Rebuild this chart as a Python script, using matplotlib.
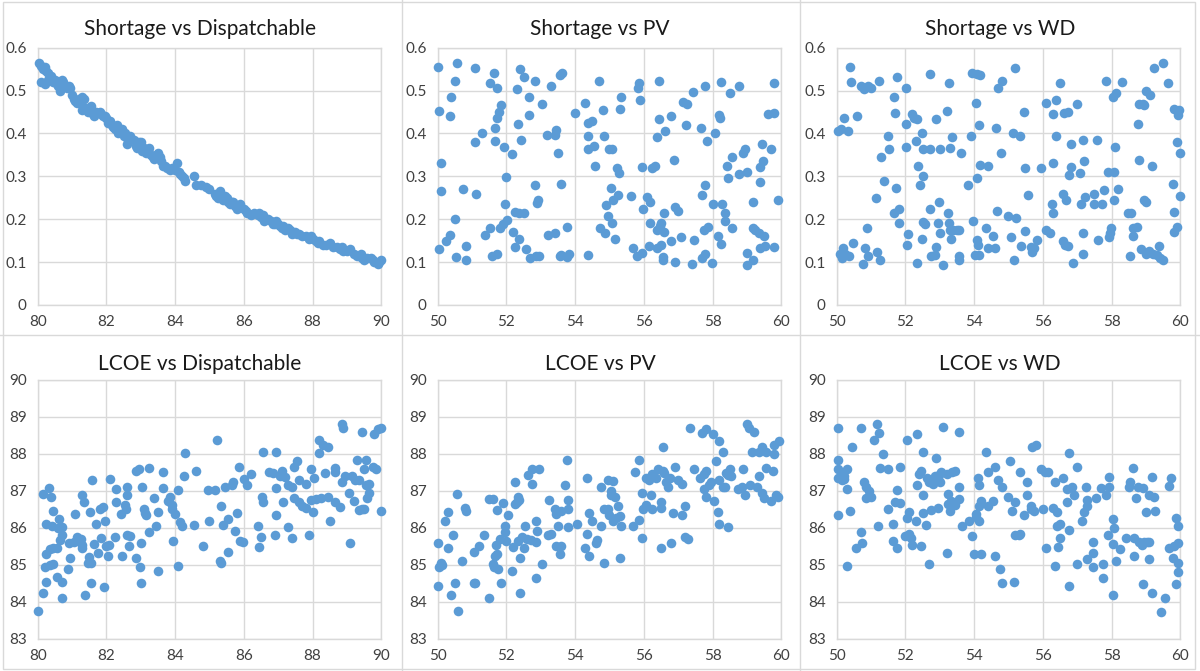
import matplotlib
matplotlib.use('Agg')
import matplotlib.pyplot as plt
from matplotlib.lines import Line2D
from matplotlib.patches import Rectangle

# (x, y) pairs
short_disp = [
    (80.05, 0.565), (80.1, 0.558), (80.15, 0.55), (80.1, 0.52), (80.2, 0.555), (80.25, 0.545),
    (80.3, 0.54), (80.2, 0.515), (80.35, 0.53), (80.4, 0.535), (80.3, 0.525), (80.45, 0.52),
    (80.5, 0.525), (80.55, 0.515), (80.6, 0.51), (80.65, 0.5), (80.6, 0.52), (80.7, 0.525),
    (80.75, 0.52), (80.8, 0.51), (80.85, 0.505), (80.9, 0.51), (80.95, 0.505), (81.0, 0.49),
    (81.05, 0.48), (81.1, 0.475), (81.15, 0.47), (81.2, 0.48), (81.25, 0.47), (81.3, 0.485),
    (81.35, 0.48), (81.3, 0.455), (81.4, 0.46), (81.45, 0.45), (81.5, 0.46), (81.55, 0.465),
    (81.6, 0.445), (81.65, 0.44), (81.7, 0.45), (81.8, 0.45), (81.85, 0.445), (81.9, 0.44),
    (81.95, 0.44), (82.0, 0.435), (82.05, 0.425), (82.1, 0.43), (82.15, 0.42), (82.2, 0.415),
    (82.25, 0.41), (82.3, 0.42), (82.35, 0.4), (82.4, 0.405), (82.45, 0.41), (82.5, 0.395),
    (82.55, 0.4), (82.6, 0.39), (82.6, 0.375), (82.65, 0.385), (82.7, 0.395), (82.8, 0.385),
    (82.85, 0.37), (82.9, 0.365), (82.95, 0.38), (83.0, 0.38), (83.05, 0.36), (83.1, 0.365),
    (83.15, 0.355), (83.2, 0.36), (83.25, 0.365), (83.3, 0.35), (83.35, 0.345), (83.4, 0.34),
    (83.45, 0.35), (83.5, 0.355), (83.55, 0.345), (83.6, 0.335), (83.65, 0.325), (83.7, 0.325),
    (83.75, 0.32), (83.85, 0.315), (83.9, 0.32), (84.0, 0.315), (84.05, 0.33), (84.1, 0.31),
    (84.15, 0.305), (84.2, 0.3), (84.25, 0.295), (84.3, 0.29), (84.55, 0.3), (84.6, 0.28),
    (84.75, 0.28), (84.9, 0.275), (85.0, 0.27), (85.15, 0.26), (85.2, 0.255), (85.25, 0.25),
    (85.3, 0.265), (85.35, 0.255), (85.4, 0.245), (85.45, 0.255), (85.5, 0.25), (85.55, 0.24),
    (85.6, 0.235), (85.65, 0.24), (85.7, 0.24), (85.75, 0.23), (85.8, 0.225), (85.9, 0.235),
    (86.0, 0.225), (86.05, 0.22), (86.1, 0.215), (86.2, 0.21), (86.3, 0.215), (86.4, 0.21),
    (86.45, 0.215), (86.5, 0.205), (86.55, 0.21), (86.6, 0.195), (86.7, 0.2), (86.8, 0.195),
    (86.85, 0.19), (86.9, 0.19), (86.95, 0.195), (87.0, 0.19), (87.05, 0.185), (87.1, 0.18),
    (87.15, 0.185), (87.2, 0.175), (87.3, 0.18), (87.35, 0.175), (87.4, 0.165), (87.5, 0.17),
    (87.55, 0.165), (87.6, 0.165), (87.7, 0.16), (87.8, 0.16), (87.9, 0.155), (87.95, 0.16),
    (88.0, 0.155), (88.1, 0.15), (88.15, 0.145), (88.2, 0.15), (88.3, 0.14), (88.4, 0.14),
    (88.5, 0.145), (88.6, 0.135), (88.7, 0.135), (88.8, 0.13), (88.85, 0.135), (88.9, 0.125),
    (89.0, 0.125), (89.1, 0.13), (89.2, 0.12), (89.3, 0.115), (89.4, 0.12), (89.45, 0.11),
    (89.5, 0.105), (89.6, 0.11), (89.7, 0.11), (89.75, 0.105), (89.8, 0.1), (89.9, 0.095),
    (89.95, 0.1), (90.0, 0.105),
]

short_pv = [
    (50.0, 0.556), (50.05, 0.452), (50.1, 0.33), (50.1, 0.267), (50.05, 0.13), (50.25, 0.15),
    (50.35, 0.163), (50.4, 0.484), (50.35, 0.44), (50.5, 0.522), (50.57, 0.565), (50.5, 0.2),
    (50.52, 0.113), (50.73, 0.27), (50.83, 0.138), (50.83, 0.106), (51.1, 0.552), (51.1, 0.38),
    (51.28, 0.402), (51.12, 0.259), (51.38, 0.163), (51.52, 0.179), (51.52, 0.517), (51.64, 0.54),
    (51.74, 0.507), (51.67, 0.412), (51.67, 0.383), (51.72, 0.435), (51.79, 0.451), (51.83, 0.466),
    (51.57, 0.114), (51.72, 0.12), (51.82, 0.179), (51.91, 0.19), (52.03, 0.198), (51.96, 0.235),
    (51.99, 0.299), (51.94, 0.368), (52.15, 0.352), (52.18, 0.171), (52.25, 0.136), (52.25, 0.218),
    (52.38, 0.214), (52.52, 0.214), (52.37, 0.155), (52.3, 0.503), (52.4, 0.55), (52.5, 0.531),
    (52.35, 0.422), (52.42, 0.385), (52.66, 0.484), (52.66, 0.444), (52.57, 0.13), (52.7, 0.109),
    (52.83, 0.522), (52.83, 0.279), (52.88, 0.237), (52.93, 0.245), (52.86, 0.114), (52.96, 0.114),
    (53.03, 0.468), (53.17, 0.396), (53.3, 0.51), (53.2, 0.163), (53.42, 0.167), (53.42, 0.396),
    (53.45, 0.408), (53.49, 0.354), (53.55, 0.536), (53.63, 0.542), (53.59, 0.281), (53.59, 0.117),
    (53.55, 0.114), (53.76, 0.183), (53.81, 0.119), (53.76, 0.111), (54.0, 0.448), (54.29, 0.47),
    (54.39, 0.425), (54.39, 0.394), (54.39, 0.363), (54.39, 0.117), (54.49, 0.43), (54.55, 0.371),
    (54.58, 0.324), (54.7, 0.522), (54.8, 0.455), (54.84, 0.394), (54.73, 0.179), (54.87, 0.169),
    (54.9, 0.233), (54.97, 0.207), (55.0, 0.363), (55.07, 0.363), (55.04, 0.272), (55.1, 0.245),
    (55.08, 0.192), (55.15, 0.153), (55.26, 0.256), (55.23, 0.319), (55.29, 0.308), (55.31, 0.456),
    (55.33, 0.486), (55.63, 0.254), (55.68, 0.134), (55.8, 0.114), (55.82, 0.507), (55.87, 0.518),
    (55.89, 0.478), (55.94, 0.322), (55.94, 0.122), (55.99, 0.223), (56.1, 0.252), (56.17, 0.241),
    (56.17, 0.192), (56.14, 0.138), (56.23, 0.319), (56.33, 0.325), (56.38, 0.176), (56.43, 0.522),
    (56.43, 0.433), (56.38, 0.392), (56.46, 0.184), (56.5, 0.192), (56.38, 0.132), (56.5, 0.14),
    (56.6, 0.214), (56.6, 0.171), (56.57, 0.113), (56.57, 0.105), (56.62, 0.406), (56.79, 0.44),
    (56.79, 0.15), (56.88, 0.338), (56.91, 0.228), (57.0, 0.22), (56.91, 0.101), (57.08, 0.158),
    (57.14, 0.474), (57.27, 0.469), (57.23, 0.42), (57.43, 0.497), (57.47, 0.152), (57.4, 0.096),
    (57.67, 0.412), (57.69, 0.256), (57.79, 0.28), (57.79, 0.51), (57.84, 0.383), (57.76, 0.175),
    (57.86, 0.183), (57.69, 0.109), (57.79, 0.12), (57.98, 0.097), (58.01, 0.235), (58.08, 0.4),
    (58.2, 0.443), (58.22, 0.437), (58.24, 0.52), (58.17, 0.161), (58.24, 0.142), (58.27, 0.235),
    (58.37, 0.214), (58.37, 0.197), (58.42, 0.324), (58.44, 0.295), (58.51, 0.495), (58.56, 0.346),
    (58.56, 0.18), (58.76, 0.51), (58.76, 0.305), (58.9, 0.354), (58.95, 0.363), (59.0, 0.311),
    (59.0, 0.093), (59.0, 0.122), (59.17, 0.105), (59.17, 0.241), (59.17, 0.18), (59.24, 0.175),
    (59.34, 0.167), (59.37, 0.322), (59.37, 0.287), (59.44, 0.375), (59.47, 0.336), (59.49, 0.161),
    (59.39, 0.132), (59.53, 0.138), (59.63, 0.446), (59.8, 0.448), (59.7, 0.363), (59.78, 0.518),
    (59.78, 0.136), (59.92, 0.246),
]

short_wd = [
    (50.05, 0.406), (50.12, 0.41), (50.1, 0.12), (50.15, 0.109), (50.17, 0.132), (50.24, 0.12),
    (50.22, 0.437), (50.34, 0.406), (50.37, 0.114), (50.39, 0.556), (50.41, 0.519), (50.48, 0.144),
    (50.6, 0.44), (50.71, 0.51), (50.8, 0.503), (50.9, 0.51), (51.0, 0.507), (50.76, 0.095),
    (50.83, 0.134), (50.87, 0.18), (50.92, 0.114), (51.14, 0.249), (51.18, 0.124), (51.24, 0.523),
    (51.26, 0.106), (51.29, 0.344), (51.38, 0.288), (51.48, 0.394), (51.52, 0.363), (51.67, 0.484),
    (51.69, 0.447), (51.76, 0.531), (51.74, 0.272), (51.67, 0.214), (51.81, 0.225), (51.82, 0.192),
    (52.01, 0.507), (52.01, 0.422), (52.03, 0.368), (52.05, 0.14), (52.08, 0.165), (52.18, 0.445),
    (52.25, 0.437), (52.34, 0.433), (52.3, 0.383), (52.37, 0.325), (52.42, 0.28), (52.47, 0.402),
    (52.5, 0.363), (52.52, 0.301), (52.47, 0.153), (52.52, 0.194), (52.57, 0.189), (52.34, 0.097),
    (52.73, 0.538), (52.73, 0.363), (52.73, 0.223), (52.74, 0.114), (52.86, 0.117), (52.89, 0.136),
    (52.89, 0.433), (52.98, 0.241), (52.95, 0.192), (53.0, 0.363), (53.0, 0.167), (53.1, 0.093),
    (53.2, 0.452), (53.27, 0.518), (53.24, 0.214), (53.27, 0.192), (53.29, 0.176), (53.32, 0.155),
    (53.31, 0.365), (53.37, 0.392), (53.39, 0.175), (53.49, 0.176), (53.56, 0.114), (53.56, 0.105),
    (53.56, 0.176), (53.63, 0.354), (53.82, 0.28), (53.92, 0.394), (53.95, 0.542), (54.07, 0.538),
    (54.16, 0.536), (54.05, 0.472), (53.97, 0.197), (54.02, 0.117), (54.08, 0.152), (54.09, 0.295),
    (54.11, 0.14), (54.14, 0.117), (54.16, 0.326), (54.14, 0.42), (54.4, 0.324), (54.34, 0.18),
    (54.4, 0.134), (54.6, 0.132), (54.55, 0.161), (54.64, 0.413), (54.71, 0.507), (54.81, 0.523),
    (54.78, 0.355), (54.68, 0.22), (54.99, 0.207), (55.08, 0.159), (55.15, 0.106), (55.18, 0.552),
    (55.13, 0.4), (55.21, 0.202), (55.34, 0.394), (55.37, 0.138), (55.44, 0.451), (55.47, 0.173),
    (55.47, 0.319), (55.57, 0.256), (55.66, 0.136), (55.68, 0.124), (55.73, 0.134), (55.83, 0.152),
    (55.95, 0.319), (56.08, 0.47), (56.08, 0.176), (56.2, 0.167), (56.27, 0.235), (56.31, 0.214),
    (56.29, 0.445), (56.31, 0.33), (56.39, 0.478), (56.39, 0.394), (56.49, 0.518), (56.58, 0.259),
    (56.58, 0.15), (56.66, 0.14), (56.73, 0.138), (56.63, 0.447), (56.73, 0.451), (56.68, 0.245),
    (56.76, 0.303), (56.83, 0.375), (56.83, 0.321), (56.89, 0.099), (56.99, 0.469), (57.07, 0.307),
    (57.1, 0.235), (57.18, 0.385), (57.21, 0.336), (57.24, 0.251), (57.18, 0.169), (57.18, 0.12),
    (57.5, 0.26), (57.5, 0.235), (57.57, 0.385), (57.6, 0.152), (57.72, 0.235), (57.77, 0.268),
    (57.84, 0.523), (57.89, 0.311), (57.94, 0.159), (57.96, 0.169), (57.99, 0.18), (58.03, 0.486),
    (58.08, 0.309), (58.08, 0.246), (58.11, 0.369), (58.13, 0.495), (58.18, 0.27), (58.3, 0.521),
    (58.47, 0.214), (58.57, 0.214), (58.55, 0.114), (58.64, 0.179), (58.64, 0.161), (58.73, 0.183),
    (58.76, 0.423), (58.79, 0.469), (58.79, 0.338), (58.91, 0.469), (58.86, 0.13), (58.95, 0.466),
    (58.95, 0.245), (59.0, 0.241), (59.0, 0.12), (59.0, 0.5), (59.08, 0.127), (59.13, 0.49),
    (59.18, 0.324), (59.2, 0.12), (59.25, 0.552), (59.32, 0.117), (59.37, 0.138), (59.41, 0.109),
    (59.49, 0.565), (59.49, 0.105), (59.64, 0.517), (59.8, 0.282), (59.83, 0.456), (59.81, 0.171),
    (59.83, 0.218), (59.92, 0.181), (59.92, 0.381), (59.95, 0.443), (59.97, 0.455), (60.0, 0.254),
    (60.0, 0.354),
]

lcoe_disp = [
    (80.02, 83.75), (80.15, 84.25), (80.25, 84.55), (80.22, 84.95), (80.35, 85.0), (80.45, 85.02),
    (80.25, 85.3), (80.35, 85.42), (80.45, 85.45), (80.55, 85.45), (80.15, 86.93), (80.33, 87.08),
    (80.4, 86.85), (80.25, 86.12), (80.45, 86.45), (80.42, 86.05), (80.6, 86.0), (80.62, 86.25),
    (80.72, 86.02), (80.7, 85.82), (80.65, 85.68), (80.55, 84.68), (80.7, 84.55), (80.72, 84.12),
    (80.88, 84.9), (80.95, 85.2), (80.9, 85.6), (81.05, 85.62), (81.1, 86.38), (81.15, 85.75),
    (81.25, 85.7), (81.3, 85.55), (81.3, 85.45), (81.3, 86.88), (81.35, 86.7), (81.38, 84.2),
    (81.45, 85.05), (81.48, 85.22), (81.55, 85.05), (81.55, 84.5), (81.52, 86.43), (81.58, 87.3),
    (81.65, 85.58), (81.7, 86.1), (81.75, 85.32), (81.8, 86.52), (81.85, 85.73), (81.9, 86.58),
    (81.92, 84.4), (81.95, 86.18), (82.0, 85.5), (82.05, 85.25), (82.08, 85.55), (82.1, 87.32),
    (82.25, 85.75), (82.28, 86.7), (82.28, 87.05), (82.42, 86.38), (82.45, 85.23), (82.55, 86.62),
    (82.58, 86.52), (82.6, 86.9), (82.6, 87.12), (82.6, 85.82), (82.65, 85.5), (82.7, 85.78),
    (82.85, 85.18), (82.85, 87.55), (82.95, 87.6), (82.98, 84.95), (83.02, 84.5), (83.0, 85.6),
    (83.05, 87.12), (83.1, 86.5), (83.12, 86.4), (83.15, 86.35), (83.25, 87.62), (83.25, 85.9),
    (83.4, 86.8), (83.45, 86.05), (83.5, 86.42), (83.5, 84.85), (83.65, 87.5), (83.65, 87.08),
    (83.8, 86.72), (83.85, 86.85), (83.9, 86.62), (83.92, 86.5), (84.0, 86.38), (83.95, 85.65),
    (84.08, 87.02), (84.08, 84.98), (84.15, 86.15), (84.2, 86.05), (84.25, 87.4), (84.3, 88.02),
    (84.55, 86.08), (84.6, 87.55), (84.8, 85.52), (84.95, 87.03), (85.0, 86.18), (85.15, 87.02),
    (85.22, 88.38), (85.3, 85.1), (85.35, 85.05), (85.35, 86.6), (85.4, 86.08), (85.45, 87.1),
    (85.55, 86.25), (85.55, 85.35), (85.65, 87.15), (85.7, 87.25), (85.75, 85.92), (85.8, 86.4),
    (85.85, 87.65), (85.9, 85.65), (86.0, 87.33), (85.98, 85.62), (86.08, 87.15), (86.2, 87.45),
    (86.4, 86.05), (86.45, 85.48), (86.5, 85.75), (86.52, 86.85), (86.55, 86.7), (86.55, 88.05),
    (86.72, 87.5), (86.85, 87.48), (86.92, 85.82), (86.95, 87.08), (86.95, 86.35), (86.95, 88.05),
    (87.05, 87.4), (87.1, 87.55), (87.15, 86.7), (87.2, 87.38), (87.28, 86.02), (87.3, 87.15),
    (87.4, 87.12), (87.4, 85.72), (87.45, 86.8), (87.45, 87.65), (87.55, 87.82), (87.6, 87.3),
    (87.6, 86.7), (87.7, 86.6), (87.8, 86.55), (87.8, 87.2), (87.9, 85.8), (87.95, 86.75),
    (87.95, 87.6), (88.0, 86.42), (88.05, 87.35), (88.1, 86.78), (88.2, 88.02), (88.2, 88.38),
    (88.25, 86.82), (88.3, 88.25), (88.35, 87.48), (88.45, 86.85), (88.45, 88.18), (88.5, 86.18),
    (88.65, 87.5), (88.65, 87.62), (88.65, 86.7), (88.8, 86.58), (88.85, 87.25), (88.85, 88.82),
    (88.9, 88.7), (88.95, 87.4), (89.05, 86.95), (89.1, 85.6), (89.15, 87.4), (89.2, 86.72),
    (89.25, 87.3), (89.3, 87.85), (89.35, 87.3), (89.35, 86.48), (89.45, 86.5), (89.45, 88.6),
    (89.5, 86.5), (89.5, 87.6), (89.55, 87.15), (89.55, 87.85), (89.6, 86.8), (89.65, 86.95),
    (89.65, 87.2), (89.75, 87.65), (89.8, 88.55), (89.85, 87.6), (89.9, 88.68), (90.0, 88.7),
    (90.0, 86.45),
]

lcoe_pv = [
    (50.0, 85.6), (50.0, 84.42), (50.05, 84.95), (50.1, 85.05), (50.12, 85.0), (50.2, 86.2),
    (50.3, 86.42), (50.3, 85.45), (50.4, 84.2), (50.45, 85.8), (50.5, 84.5), (50.55, 86.92),
    (50.6, 83.75), (50.7, 85.1), (50.8, 86.55), (50.82, 86.45), (51.05, 85.35), (51.05, 84.52),
    (51.1, 84.5), (51.2, 85.52), (51.35, 85.82), (51.5, 84.1), (51.5, 86.78), (51.6, 86.78),
    (51.6, 85.02), (51.65, 84.95), (51.68, 85.25), (51.7, 85.55), (51.72, 86.48), (51.72, 85.3),
    (51.75, 84.9), (51.8, 85.7), (51.85, 84.5), (51.9, 86.68), (51.95, 85.9), (51.95, 86.05),
    (51.98, 85.65), (52.05, 86.35), (52.15, 84.85), (52.2, 85.48), (52.25, 86.65), (52.25, 87.25),
    (52.3, 86.7), (52.35, 86.85), (52.38, 86.75), (52.35, 85.65), (52.4, 85.18), (52.4, 84.25),
    (52.45, 85.75), (52.5, 85.45), (52.55, 86.05), (52.6, 85.7), (52.62, 87.42), (52.72, 85.68),
    (52.75, 87.6), (52.75, 87.18), (52.85, 85.62), (52.85, 84.65), (52.85, 86.18), (52.9, 85.92),
    (52.95, 87.6), (53.05, 85.02), (53.2, 85.8), (53.25, 86.75), (53.3, 85.85), (53.42, 86.5),
    (53.45, 86.38), (53.5, 86.05), (53.45, 85.5), (53.55, 85.3), (53.6, 85.52), (53.6, 86.45),
    (53.7, 87.15), (53.75, 87.85), (53.8, 86.75), (53.8, 86.5), (53.8, 86.02), (54.05, 86.1),
    (54.35, 87.35), (54.3, 85.45), (54.35, 85.85), (54.4, 86.4), (54.4, 85.25), (54.5, 86.2),
    (54.6, 85.6), (54.65, 85.68), (54.75, 86.05), (54.75, 87.12), (54.85, 86.5), (54.85, 85.05),
    (54.95, 87.3), (54.95, 86.5), (55.0, 86.35), (55.05, 86.88), (55.05, 87.0), (55.1, 87.28),
    (55.15, 86.85), (55.1, 86.2), (55.2, 86.28), (55.25, 86.6), (55.3, 86.32), (55.3, 85.2),
    (55.35, 86.05), (55.7, 86.05), (55.75, 87.5), (55.85, 86.22), (55.85, 87.85), (55.95, 86.95),
    (55.95, 85.72), (55.98, 86.5), (56.05, 86.62), (56.05, 87.35), (56.15, 87.3), (56.2, 86.88),
    (56.25, 87.45), (56.25, 86.5), (56.35, 87.35), (56.4, 87.6), (56.5, 86.7), (56.5, 86.55),
    (56.5, 85.45), (56.55, 88.2), (56.55, 87.55), (56.6, 87.48), (56.65, 87.25), (56.7, 87.1),
    (56.75, 87.35), (56.8, 85.6), (56.85, 86.4), (56.9, 87.65), (57.0, 87.3), (57.1, 86.35),
    (57.1, 87.18), (57.2, 86.6), (57.2, 85.75), (57.3, 85.7), (57.35, 88.7), (57.45, 87.6),
    (57.65, 87.35), (57.7, 88.58), (57.75, 87.05), (57.75, 87.45), (57.8, 87.55), (57.82, 88.68),
    (57.8, 86.85), (57.9, 87.15), (57.95, 87.25), (58.0, 88.55), (58.05, 86.72), (58.1, 87.8),
    (58.15, 86.42), (58.2, 87.3), (58.2, 86.12), (58.2, 88.35), (58.3, 87.1), (58.3, 88.05),
    (58.35, 87.1), (58.4, 87.48), (58.45, 86.02), (58.45, 87.42), (58.5, 87.6), (58.55, 87.4),
    (58.75, 87.05), (58.85, 87.1), (58.9, 87.6), (58.95, 86.9), (59.0, 88.8), (59.05, 88.7),
    (59.1, 87.15), (59.15, 88.05), (59.2, 88.6), (59.3, 87.1), (59.35, 87.4), (59.35, 88.05),
    (59.45, 88.2), (59.45, 86.95), (59.5, 86.8), (59.55, 87.62), (59.55, 88.05), (59.7, 86.72),
    (59.75, 87.55), (59.8, 88.25), (59.85, 86.9), (59.9, 86.85), (59.95, 88.35), (59.8, 88.0),
]

lcoe_wd = [
    (50.03, 86.35), (50.05, 88.7), (50.05, 87.85), (50.05, 87.6), (50.05, 87.35), (50.12, 87.45),
    (50.15, 87.3), (50.2, 87.4), (50.22, 87.32), (50.3, 87.6), (50.3, 87.05), (50.3, 84.98),
    (50.4, 86.45), (50.45, 88.2), (50.55, 85.45), (50.7, 85.88), (50.7, 88.7), (50.75, 85.6),
    (50.8, 87.25), (50.85, 87.1), (50.85, 86.8), (50.95, 87.0), (51.0, 86.85), (51.1, 88.38),
    (51.18, 88.8), (51.22, 88.58), (51.2, 86.05), (51.25, 87.62), (51.35, 88.0), (51.5, 87.6),
    (51.5, 86.52), (51.65, 85.65), (51.65, 86.1), (51.7, 86.7), (51.75, 87.02), (51.75, 85.45),
    (51.85, 87.65), (51.85, 86.68), (52.0, 85.78), (52.05, 88.38), (52.05, 86.28), (52.1, 85.85),
    (52.1, 86.42), (52.15, 85.72), (52.2, 85.55), (52.3, 86.18), (52.35, 87.15), (52.35, 88.55),
    (52.4, 87.45), (52.45, 87.55), (52.45, 85.52), (52.5, 86.88), (52.5, 86.4), (52.5, 88.05),
    (52.6, 86.08), (52.62, 87.35), (52.7, 87.25), (52.7, 85.02), (52.75, 86.48), (52.8, 87.2),
    (52.85, 87.4), (52.9, 87.88), (52.95, 86.55), (52.98, 87.42), (53.05, 87.52), (53.0, 87.25),
    (53.1, 88.72), (53.2, 87.45), (53.2, 85.32), (53.25, 86.92), (53.25, 86.65), (53.3, 86.45),
    (53.32, 86.72), (53.35, 87.5), (53.45, 87.55), (53.45, 86.62), (53.55, 87.12), (53.55, 86.78),
    (53.55, 88.6), (53.65, 86.05), (53.85, 86.18), (53.95, 85.78), (54.0, 85.3), (54.05, 86.3),
    (54.05, 86.38), (54.1, 87.35), (54.15, 87.15), (54.15, 86.18), (54.15, 86.6), (54.2, 86.72),
    (54.2, 85.3), (54.35, 88.05), (54.4, 86.6), (54.4, 87.5), (54.55, 86.72), (54.6, 87.65),
    (54.6, 85.25), (54.7, 87.3), (54.75, 84.88), (54.8, 87.1), (54.8, 84.52), (55.0, 86.85),
    (55.05, 87.8), (55.1, 86.45), (55.15, 84.55), (55.2, 86.7), (55.2, 85.8), (55.3, 85.82),
    (55.35, 85.85), (55.35, 87.5), (55.45, 86.35), (55.55, 87.25), (55.55, 86.88), (55.65, 86.5),
    (55.65, 86.6), (55.75, 86.45), (55.7, 88.2), (55.8, 88.25), (55.95, 87.6), (56.05, 87.52),
    (56.0, 86.5), (56.1, 85.45), (56.15, 87.5), (56.3, 86.55), (56.35, 87.25), (56.4, 86.42),
    (56.35, 84.98), (56.4, 86.05), (56.5, 85.72), (56.5, 86.12), (56.45, 85.48), (56.6, 87.35),
    (56.7, 87.05), (56.7, 86.7), (56.75, 85.95), (56.75, 88.02), (56.75, 84.42), (56.85, 87.1),
    (56.9, 86.9), (57.0, 87.65), (57.0, 85.02), (57.15, 86.18), (57.2, 86.42), (57.3, 86.6),
    (57.3, 86.75), (57.25, 87.1), (57.3, 85.15), (57.47, 84.95), (57.47, 85.32), (57.47, 85.63),
    (57.55, 86.8), (57.7, 87.07), (57.74, 85.02), (57.76, 84.64), (57.84, 86.9), (57.89, 85.8),
    (57.92, 87.12), (57.94, 87.39), (58.03, 85.58), (58.03, 84.2), (58.05, 86.25), (58.08, 86.0),
    (58.13, 85.1), (58.25, 85.42), (58.42, 85.73), (58.52, 87.1), (58.55, 87.25), (58.62, 87.61),
    (58.66, 85.74), (58.66, 85.25), (58.71, 86.8), (58.76, 87.12), (58.81, 85.63), (58.89, 85.54),
    (58.91, 87.07), (58.91, 84.48), (58.96, 85.63), (59.0, 86.44), (59.03, 85.63), (59.1, 85.63),
    (59.08, 86.9), (59.1, 85.17), (59.18, 87.39), (59.18, 84.24), (59.25, 86.85), (59.27, 86.46),
    (59.44, 83.74), (59.56, 84.1), (59.66, 87.14), (59.73, 87.36), (59.68, 85.45), (59.78, 85.2),
    (59.83, 85.5), (59.87, 86.27), (59.95, 86.05), (59.95, 85.05), (59.95, 84.82), (59.89, 84.48),
    (59.95, 85.6),
]

titles = ["Shortage vs Dispatchable", "Shortage vs PV", "Shortage vs WD",
          "LCOE vs Dispatchable", "LCOE vs PV", "LCOE vs WD"]
series = [short_disp, short_pv, short_wd, lcoe_disp, lcoe_pv, lcoe_wd]
xranges = [(80, 90), (50, 60), (50, 60), (80, 90), (50, 60), (50, 60)]
top_yticks = [0, 0.1, 0.2, 0.3, 0.4, 0.5, 0.6]
top_ylabels = ["0", "0.1", "0.2", "0.3", "0.4", "0.5", "0.6"]
bot_yticks = [83, 84, 85, 86, 87, 88, 89, 90]

W, H = 1200, 671
fig = plt.figure(figsize=(W / 100, H / 100), dpi=100)
fig.patch.set_facecolor('white')

BLUE = '#5B9BD5'
GRID = '#D9D9D9'
TXT = '#404040'
FONT = ['Lato', 'DejaVu Sans']

col_left = [37.7, 437.7, 836.7]
ax_w = 343.5
row_top = [47.7, 380]
row_h = [257.3, 259]

for i, (title, pts) in enumerate(zip(titles, series)):
    r, c = divmod(i, 3)
    l = col_left[c]
    t = row_top[r]
    ax = fig.add_axes([l / W, 1 - (t + row_h[r]) / H, ax_w / W, row_h[r] / H])
    xs = [p[0] for p in pts]
    ys = [p[1] for p in pts]
    ax.scatter(xs, ys, s=48, color=BLUE, linewidths=0, clip_on=False, zorder=3)
    x0, x1 = xranges[i]
    ax.set_xlim(x0, x1)
    ax.set_xticks(range(x0, x1 + 1, 2))
    if r == 0:
        ax.set_ylim(0, 0.6)
        ax.set_yticks(top_yticks)
        ax.set_yticklabels(top_ylabels)
    else:
        ax.set_ylim(83, 90)
        ax.set_yticks(bot_yticks)
    ax.grid(True, color=GRID, linewidth=1)
    ax.set_axisbelow(True)
    for sp in ax.spines.values():
        sp.set_color(GRID)
        sp.set_linewidth(1)
    ax.tick_params(length=0, labelsize=11, labelcolor=TXT)
    ax.tick_params(axis='x', pad=7)
    ax.tick_params(axis='y', pad=8)
    for lab in ax.get_xticklabels() + ax.get_yticklabels():
        lab.set_family(FONT)
    # title is centred on the whole panel, not the plot area
    fig.text((200 + 400 * c) / W, 1 - (35 + 335 * r) / H, title, ha='center',
             va='baseline', fontsize=15, color='#1a1a1a', family=FONT)

# panel separators and outer frame
fig.add_artist(Line2D([401.5 / W, 401.5 / W], [0, 1], color=GRID, lw=1))
fig.add_artist(Line2D([800 / W, 800 / W], [0, 1], color=GRID, lw=1))
fig.add_artist(Line2D([0, 1], [1 - 335 / H, 1 - 335 / H], color=GRID, lw=1))
fig.add_artist(Rectangle((3 / W, 1 - 669 / H), 1192 / W, 667 / H, fill=False,
                         edgecolor=GRID, lw=1))

fig.savefig('out.png', dpi=100, facecolor='white')
